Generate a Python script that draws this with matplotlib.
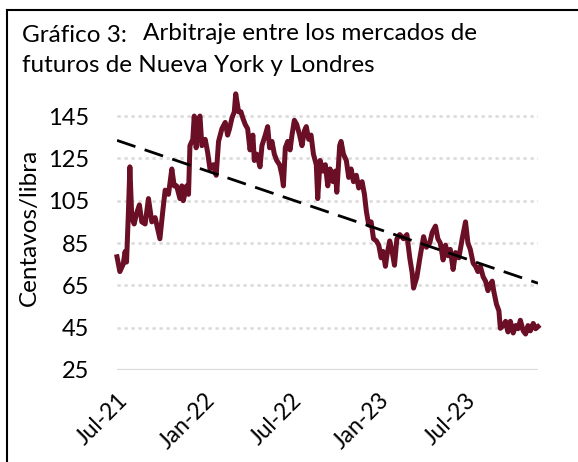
import numpy as np
import datetime as dt
from matplotlib import pyplot as plt
from matplotlib.lines import Line2D

# Days since 1 Jul 2021 and price (centavos/libra)
days = [0, 6, 13, 17, 20, 24, 27, 31, 36, 41, 47, 52, 59, 66, 73, 80, 90, 96,
        101, 108, 115, 120, 125, 132, 136, 139, 146, 150, 153, 159, 162, 166,
        171, 174, 178, 185, 190, 195, 202, 208, 213, 220, 227, 232, 236, 241,
        246, 249, 255, 260, 264, 269, 274, 279, 285, 288, 293, 300,
        304, 311, 316, 320, 325, 330, 335, 341, 346, 349, 353, 358, 363, 367,
        372, 377, 383, 388, 393, 397, 402, 407, 412, 418, 421, 426, 432, 437,
        442, 447, 453, 458, 461, 467, 470, 475, 481, 486, 491, 496, 502, 507,
        514, 519, 523, 528, 533, 538, 544, 549, 554, 558, 563, 566, 572, 577,
        582, 587, 593,
        601, 608, 614, 619, 622, 629, 636, 643, 649, 656, 661, 668, 673, 678,
        684, 689, 694, 699, 705, 710, 717, 724, 731, 736, 741, 747, 752, 757,
        762, 768, 773, 778, 783, 787, 790, 796, 801, 804, 810, 815, 820, 825,
        831, 836, 841, 846, 852, 857, 862, 867, 873, 878, 883]
precio = [78.5, 71.5, 75, 81, 76, 100, 121, 97, 94, 99, 103, 95, 94, 106, 95,
          97, 87, 100, 110, 108, 120, 112, 112, 106, 112, 105, 112, 108, 131,
          134, 145, 130, 143, 145, 131, 134, 128, 120, 122, 117, 133, 139, 142,
          136, 139, 144, 147, 155.5, 147, 147, 144, 141, 139, 129, 136, 124,
          127, 121,
          131, 136, 140, 130, 133, 127, 124, 122, 117, 112, 130, 133, 129, 136,
          143, 141, 136, 131, 138, 140, 134, 136, 127, 122, 106, 124, 119, 122,
          112, 120, 114, 119, 109, 131, 133, 127, 124, 116, 120, 114, 117, 111,
          114, 108, 100, 93.5, 95, 87, 86, 84, 78, 81, 74, 79, 86, 81, 74.5,
          87, 89,
          87, 89, 78, 71, 63.7, 69, 79, 88, 83, 85, 90, 93, 87, 85, 77, 84, 79,
          82, 72.5, 80.5, 78, 87, 95, 85, 82, 75.5, 74, 71.5, 74, 69, 67, 62.5,
          65.5, 67, 62.5, 56, 53, 44.7, 46, 48, 43, 48, 42.5, 46, 44.5, 48.5,
          43.5, 42, 46, 43.5, 47, 44.5, 45.5]

tendencia = [133.5, 66.0]   # linear trend, start and end
inicio = dt.date(2021, 7, 1)

tick_fechas = [dt.date(2021, 7, 1), dt.date(2022, 1, 1), dt.date(2022, 7, 1),
               dt.date(2023, 1, 1), dt.date(2023, 7, 1)]
tick_labels = ['Jul-21', 'Jan-22', 'Jul-22', 'Jan-23', 'Jul-23']
y_ticks = [25, 45, 65, 85, 105, 125, 145]

plt.rcParams['font.family'] = ['Lato', 'DejaVu Sans']

fechas = [inicio + dt.timedelta(days=d) for d in days]
fecha_fin = fechas[-1]

fig = plt.figure(figsize=(5.78, 4.62), dpi=100)
ax = fig.add_axes([117/578, 1 - 370/462, (538 - 117)/578, (370 - 84.3)/462])

# grid lines
for y in y_ticks[1:]:
    ax.axhline(y, color='#d9d9d9', lw=1.8, ls=(0, (1.3, 1.5)), zorder=1)
ax.axhline(25, color='#d9d9d9', lw=1.6, zorder=1)

ax.plot(fechas, precio, color='#6b0f26', lw=3.6, zorder=3, clip_on=False,
        solid_joinstyle='round')
ax.plot([inicio, fecha_fin], tendencia, color='black', lw=2,
        ls=(0, (7, 3.5)), zorder=4)

ax.set_xlim(inicio, fecha_fin)
ax.set_ylim(25, 160)
ax.set_yticks(y_ticks)
ax.tick_params(axis='y', length=0, pad=20, labelsize=17)
ax.set_xticks(tick_fechas)
ax.set_xticklabels(tick_labels, rotation=45, ha='right', rotation_mode='anchor',
                   fontsize=16.5)
ax.tick_params(axis='x', length=0, pad=14)
for s in ax.spines.values():
    s.set_visible(False)
ax.set_ylabel('Centavos/libra', fontsize=17.5, labelpad=6)

# title
fig.text(22/578, 1 - 41.7/462, 'Gráfico 3:', fontsize=17.5, va='baseline')
fig.text(143/578, 1 - 39.5/462, 'Arbitraje entre los mercados de',
         fontsize=17.5, va='baseline')
fig.text(22/578, 1 - 71.7/462, 'futuros de Nueva York y Londres',
         fontsize=17.5, va='baseline')

# frame lines
fig.add_artist(Line2D([7/578, 7/578], [0, 1 - 10/462], color='black', lw=1.5,
                      transform=fig.transFigure))
fig.add_artist(Line2D([7/578, 1], [1 - 10/462, 1 - 10/462], color='black',
                      lw=1.5, transform=fig.transFigure))

fig.savefig('out.png', dpi=100)
